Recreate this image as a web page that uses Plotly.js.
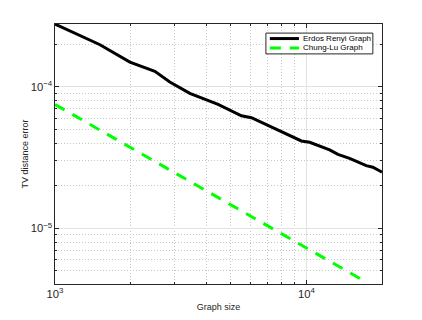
<!DOCTYPE html>
<html>
<head>
<meta charset="utf-8">
<script src="https://cdn.plot.ly/plotly-3.0.1.min.js"></script>
<style>
  html, body { margin: 0; padding: 0; background: #fff; }
  #chart { width: 422px; height: 320px; }
</style>
</head>
<body>
<div id="chart"></div>
<script>
// (log-log)
var erdosX = [1000, 1510, 1986, 2496, 2863, 3439, 4455, 5518, 6046, 8200, 9553, 10306, 12379, 13356, 14860, 17310, 18390, 19860, 20000];
var erdosY = [2.77e-4, 1.98e-4, 1.493e-4, 1.284e-4, 1.079e-4, 8.98e-5, 7.51e-5, 6.24e-5, 6.04e-5, 4.69e-5, 4.14e-5, 4.05e-5, 3.58e-5, 3.33e-5, 3.12e-5, 2.77e-5, 2.70e-5, 2.51e-5, 2.49e-5];

var chungX = [1000, 2000, 5000, 10000, 17000];
var chungY = [7.5e-5, 3.72e-5, 1.47e-5, 7.3e-6, 4.25e-6];

var names = ['Erdos Renyi Graph', 'Chung-Lu Graph'];
var colors = ['#000000', '#00ff00'];

var trace1 = {
  x: erdosX,
  y: erdosY,
  type: 'scatter',
  mode: 'lines',
  name: names[0],
  line: {color: colors[0], width: 3}
};

var trace2 = {
  x: chungX,
  y: chungY,
  type: 'scatter',
  mode: 'lines',
  name: names[1],
  line: {color: colors[1], width: 3, dash: '11px,9px'}
};

var axisText = '#262626';

function logAxis(range, title) {
  return {
    type: 'log',
    range: range,
    dtick: 1,
    exponentformat: 'power',
    showline: true,
    linecolor: axisText,
    linewidth: 1,
    mirror: 'allticks',
    ticks: 'inside',
    ticklen: 4,
    tickcolor: axisText,
    tickfont: {family: 'Liberation Sans, Arial, sans-serif', size: 9, color: axisText},
    showgrid: true,
    gridcolor: '#e2e2e2',
    zeroline: false,
    minor: {
      dtick: 'D1',
      ticks: 'inside',
      ticklen: 2,
      tickcolor: axisText,
      showgrid: true,
      gridcolor: '#c8c8c8',
      griddash: '1px,2px'
    },
    title: {text: title, font: {family: 'Liberation Sans, Arial, sans-serif', size: 9, color: axisText}}
  };
}

// legend drawn by hand, MATLAB style box
var legendShapes = [
  {type: 'rect', xref: 'paper', yref: 'paper', x0: 0.645, x1: 0.972, y0: 0.885, y1: 0.965,
   line: {color: axisText, width: 1}, fillcolor: '#ffffff'},
  {type: 'line', xref: 'paper', yref: 'paper', x0: 0.657, x1: 0.746, y0: 0.944, y1: 0.944,
   line: {color: colors[0], width: 3}},
  {type: 'line', xref: 'paper', yref: 'paper', x0: 0.657, x1: 0.746, y0: 0.908, y1: 0.908,
   line: {color: colors[1], width: 3, dash: '11px,9px'}}
];

var legendText = names.map(function (n, i) {
  return {
    xref: 'paper', yref: 'paper', x: 0.752, y: i === 0 ? 0.944 : 0.908,
    xanchor: 'left', yanchor: 'middle', showarrow: false, text: n,
    font: {family: 'Liberation Sans, Arial, sans-serif', size: 8, color: '#000'}
  };
});

var layout = {
  width: 422,
  height: 320,
  margin: {l: 55, r: 40, t: 24, b: 36},
  paper_bgcolor: '#ffffff',
  plot_bgcolor: '#ffffff',
  showlegend: false,
  xaxis: logAxis([3, 4.301], 'Graph size'),
  yaxis: logAxis([-5.393, -3.557], 'TV distance error'),
  shapes: legendShapes,
  annotations: legendText
};
layout.xaxis.title.standoff = 4;
layout.yaxis.title.standoff = 0;

Plotly.newPlot('chart', [trace1, trace2], layout, {displayModeBar: false, staticPlot: true});
</script>
</body>
</html>
